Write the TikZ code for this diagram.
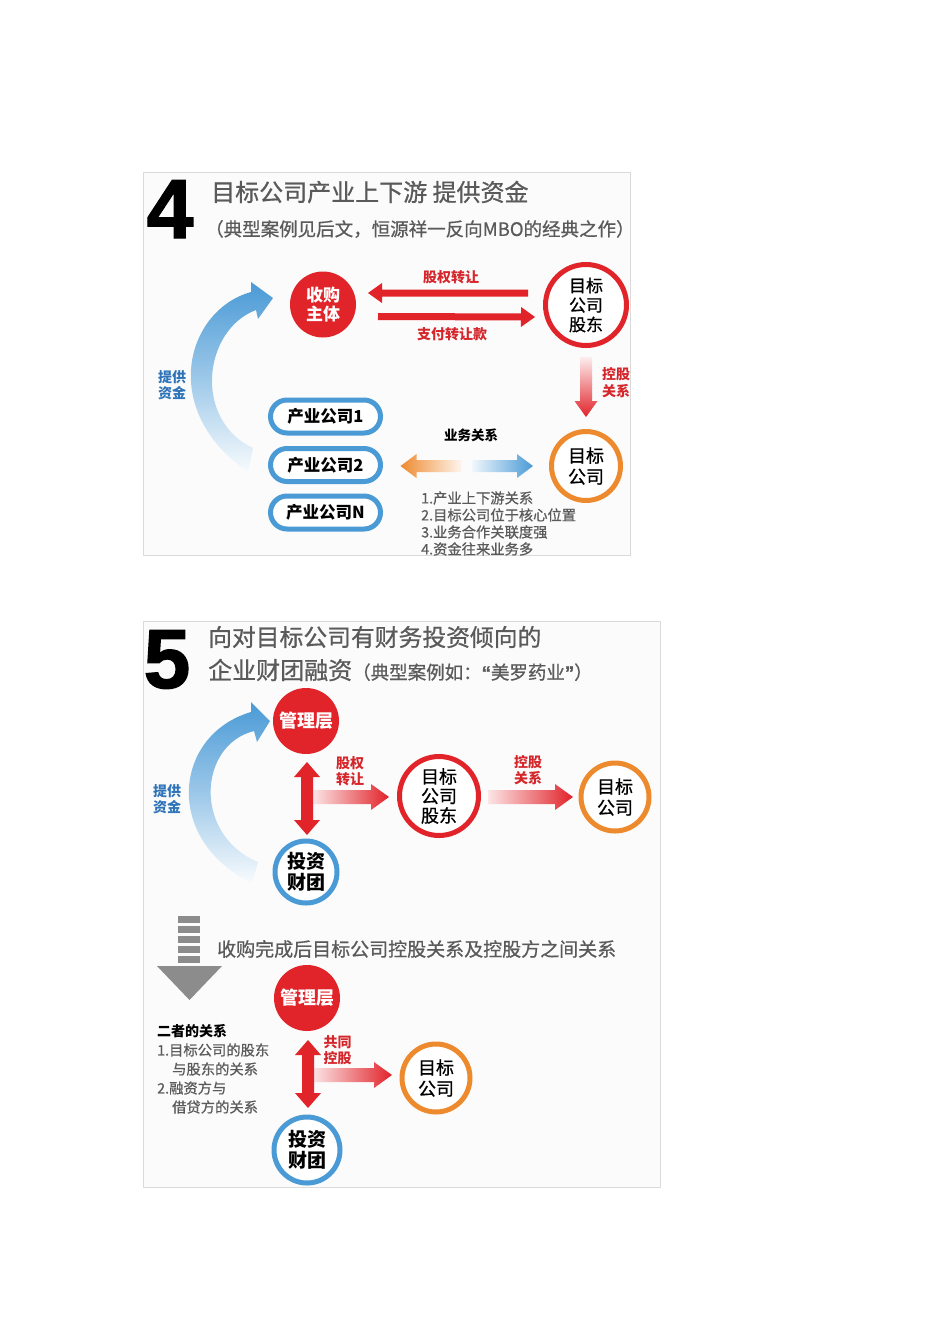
\documentclass[tikz,border=0pt]{standalone}
\usepackage{fontspec}
\setmainfont{Noto Sans CJK SC}
\newfontfamily\cjkmed[FakeBold=0.7]{Noto Sans CJK SC}
\newfontfamily\digitfont[BoldFeatures={FakeBold=1.5}]{Liberation Sans}
\usetikzlibrary{calc}
\definecolor{cred}{HTML}{E1232A}
\definecolor{credtxt}{HTML}{D5262B}
\definecolor{corange}{HTML}{EE8A2E}
\definecolor{cblue}{HTML}{4A9AD6}
\definecolor{cbluetxt}{HTML}{2F74B8}
\definecolor{ctitle}{HTML}{5A5A5A}
\definecolor{cgray}{HTML}{8C8C8C}
\definecolor{cpanel}{HTML}{FBFBFB}
\definecolor{cborder}{HTML}{DADADA}
% single-headed fat arrow: #1 from, #2 to, #3 half shaft, #4 half head, #5 head length, #6 fill/shade options
\newcommand{\fatarrow}[6]{%
  \coordinate (fatH) at ($(#2)!#5!(#1)$);
  \path[#6] ($(#1)!#3!90:(#2)$) -- ($(fatH)!#3!-90:(#1)$) -- ($(fatH)!#4!-90:(#1)$) -- (#2)
    -- ($(fatH)!#4!90:(#1)$) -- ($(fatH)!#3!90:(#1)$) -- ($(#1)!#3!-90:(#2)$) -- cycle;
}
% double-headed fat arrow
\newcommand{\dblarrow}[6]{%
  \coordinate (dbHa) at ($(#1)!#5!(#2)$);
  \coordinate (dbHb) at ($(#2)!#5!(#1)$);
  \path[#6] (#1) -- ($(dbHa)!#4!90:(#2)$) -- ($(dbHa)!#3!90:(#2)$) -- ($(dbHb)!#3!-90:(#1)$)
    -- ($(dbHb)!#4!-90:(#1)$) -- (#2) -- ($(dbHb)!#4!90:(#1)$) -- ($(dbHb)!#3!90:(#1)$)
    -- ($(dbHa)!#3!-90:(#2)$) -- ($(dbHa)!#4!-90:(#2)$) -- cycle;
}
\begin{document}
\begin{tikzpicture}[x=1pt,y=-1pt,
  panel/.style={fill=cpanel, draw=cborder, line width=0.8pt},
  rfill/.style={circle, fill=cred, text=white, inner sep=0pt, align=center,
    font=\bfseries\fontsize{17}{19.5}\selectfont},
  rring/.style={circle, draw=cred, line width=5pt, fill=white, inner sep=0pt, align=center,
    font=\cjkmed\fontsize{17}{19.5}\selectfont},
  oring/.style={circle, draw=corange, line width=5pt, fill=white, inner sep=0pt, align=center,
    font=\cjkmed\fontsize{18}{21}\selectfont},
  bring/.style={circle, draw=cblue, line width=5pt, fill=white, inner sep=0pt, align=center,
    font=\bfseries\fontsize{19}{21}\selectfont},
  pill/.style={draw=cblue, line width=5pt, fill=white, rounded corners=16.5pt,
    minimum width=110pt, minimum height=33pt, inner sep=0pt,
    font=\bfseries\fontsize{16.5}{18}\selectfont},
  rlab/.style={text=credtxt, inner sep=0pt, align=center, font=\bfseries\fontsize{14}{16.5}\selectfont},
  blab/.style={text=cbluetxt, inner sep=0pt, align=center, font=\bfseries\fontsize{14}{16}\selectfont},
  note/.style={text=ctitle, inner sep=0pt, align=left, font=\cjkmed\fontsize{14.3}{17}\selectfont},
  bignum/.style={anchor=base, inner sep=0pt, font=\digitfont\bfseries\fontsize{84}{84}\selectfont},
  ttl/.style={anchor=west, inner sep=0pt, text=ctitle}
]
\useasboundingbox (0,0) rectangle (950,1344);
\fill[white] (0,0) rectangle (950,1344);

% ================= Panel 4 =================
\draw[panel] (143,172) rectangle (630,555);
\node[bignum] (n4) at (170,238) {4};
\node[ttl, font=\cjkmed\fontsize{24}{26}\selectfont] (t4a) at (211,192) {目标公司产业上下游 提供资金};
\node[ttl, font=\cjkmed\fontsize{18.5}{20}\selectfont] (t4b) at (205,229) {（典型案例见后文，恒源祥一反向MBO的经典之作）};

% blue curved arrow (提供资金)
\path[top color=cblue, bottom color=cblue!4, middle color=cblue!55]
  (248,472) .. controls (158,410) and (186,310) .. (251,292) -- (251,282) -- (273,298)
  -- (258,319) -- (256,310) .. controls (203,330) and (193,420) .. (253,448) -- cycle;
\node[blab] (fund4) at (172,385.5) {提供\\资金};

\node[rfill, minimum size=66pt] (sg4) at (323,304.5) {收购\\主体};
\node[rring, minimum size=81pt] (gd4) at (586,305) {目标\\公司\\股东};
\node[oring, minimum size=69pt] (tc4) at (586,466) {目标\\公司};

\node[pill] (p1) at (325.5,416.5) {产业公司1};
\node[pill] (p2) at (325.5,465) {产业公司2};
\node[pill] (pn) at (325.5,512.5) {产业公司N};

% equity transfer arrows
\coordinate (a1s) at ($(gd4)+(-58,-12)$);
\coordinate (a1e) at ($(sg4)+(45,-11.5)$);
\fatarrow{a1s}{a1e}{3.5pt}{10pt}{14pt}{fill=cred}
\coordinate (a2s) at ($(sg4)+(55,12)$);
\coordinate (a2e) at ($(gd4)+(-51,12)$);
\fatarrow{a2s}{a2e}{3.5pt}{10pt}{14pt}{fill=cred}
\node[rlab] (l41) at (451,277) {股权转让};
\node[rlab] (l42) at (452,334) {支付转让款};

% holding relation arrow (vertical)
\coordinate (a3s) at ($(gd4)+(0,52)$);
\coordinate (a3e) at ($(tc4)+(0,-49)$);
\fatarrow{a3s}{a3e}{6pt}{11.5pt}{16pt}{top color=cred!8, bottom color=cred}
\node[rlab] (l43) at (616,382.5) {控股\\关系};

% business relation double arrow
\coordinate (a4s) at ($(p2)+(136,1)$);
\coordinate (a4e) at ($(p2)+(75,1)$);
\fatarrow{a4s}{a4e}{6pt}{12pt}{16pt}{left color=corange, right color=corange!8}
\coordinate (a5s) at ($(tc4)+(-114,0)$);
\coordinate (a5e) at ($(tc4)+(-53,0)$);
\fatarrow{a5s}{a5e}{6pt}{12pt}{16pt}{left color=cblue!8, right color=cblue}
\node[inner sep=0pt, font=\bfseries\fontsize{13.5}{15}\selectfont] (l44) at (471,435) {业务关系};

\node[note, anchor=west] (notes4) at (421,523.5) {1.产业上下游关系\\2.目标公司位于核心位置\\3.业务合作关联度强\\4.资金往来业务多};

% ================= Panel 5 =================
\draw[panel] (143,621) rectangle (660,1187);
\node[bignum] (n5) at (167,688) {5};
\node[ttl, font=\cjkmed\fontsize{23.8}{26}\selectfont] (t5a) at (208,637) {向对目标公司有财务投资倾向的};
\node[ttl, font=\cjkmed] (t5b) at (208,670) {{\fontsize{24}{26}\selectfont 企业财团融资}{\fontsize{18.5}{20}\selectfont （典型案例如：{\digitfont\bfseries “}美罗药业{\digitfont\bfseries ”}）}};

% blue curved arrow
\path[top color=cblue, bottom color=cblue!4, middle color=cblue!55]
  (252,883) .. controls (163,840) and (173,735) .. (251,712) -- (251,702) -- (270,721)
  -- (257,742) -- (254,731) .. controls (198,745) and (193,835) .. (258,862) -- cycle;
\node[blab] (fund5) at (167,799) {提供\\资金};

\node[rfill, minimum size=66pt, font=\bfseries\fontsize{18}{20}\selectfont] (mg5) at (306,721) {管理层};
\node[bring, minimum size=62pt] (tz5) at (306,872) {投资\\财团};
\node[rring, minimum size=79pt, font=\cjkmed\fontsize{18}{19.5}\selectfont] (gd5) at (439,796) {目标\\公司\\股东};
\node[oring, minimum size=68pt] (tc5) at (615,797) {目标\\公司};

\coordinate (b1s) at ($(mg5)+(7,76)$);
\coordinate (b1e) at ($(gd5)+(-50,1)$);
\fatarrow{b1s}{b1e}{7pt}{13pt}{18pt}{left color=cred!12, right color=cred}
\coordinate (b2s) at ($(mg5)+(1,41)$);
\coordinate (b2e) at ($(tz5)+(1,-37)$);
\dblarrow{b2s}{b2e}{6pt}{13pt}{15pt}{top color=cred, middle color=cred!25, bottom color=cred}
\node[rlab] (l51) at (350,771) {股权\\转让};

\coordinate (b3s) at ($(gd5)+(49,1)$);
\coordinate (b3e) at ($(tc5)+(-42,0)$);
\fatarrow{b3s}{b3e}{7pt}{13pt}{18pt}{left color=cred!12, right color=cred}
\node[rlab] (l52) at (528,770) {控股\\关系};

% gray down arrow
\foreach \yy in {916,926,936,946,956}{
  \fill[cgray] (178,\yy) rectangle (200,\yy+6.5);
}
\fill[cgray] (157,966) -- (222,966) -- (189.5,1000) -- cycle;
\node[ttl, font=\cjkmed\fontsize{19}{20}\selectfont, text=ctitle] (t5c) at (217,949) {收购完成后目标公司控股关系及控股方之间关系};

\node[rfill, minimum size=66pt, font=\bfseries\fontsize{18}{20}\selectfont] (mg6) at (307,998) {管理层};
\node[bring, minimum size=66pt] (tz6) at (307,1150) {投资\\财团};
\node[oring, minimum size=68pt] (tc6) at (436,1078) {目标\\公司};

\coordinate (c1s) at ($(mg6)+(6,77)$);
\coordinate (c1e) at ($(tc6)+(-44,-3)$);
\fatarrow{c1s}{c1e}{7pt}{13pt}{18pt}{left color=cred!12, right color=cred}
\coordinate (c2s) at ($(mg6)+(1,42)$);
\coordinate (c2e) at ($(tz6)+(1,-42)$);
\dblarrow{c2s}{c2e}{6pt}{13pt}{15pt}{top color=cred, middle color=cred!25, bottom color=cred}
\node[rlab] (l53) at (337.5,1050) {共同\\控股};

\node[anchor=west, inner sep=0pt, font=\bfseries\fontsize{14}{16}\selectfont] (rel0) at (157,1031) {二者的关系};
\node[note, anchor=west] (rel1) at (157,1050) {1.目标公司的股东};
\node[note, anchor=west] (rel2) at (172,1069) {与股东的关系};
\node[note, anchor=west] (rel3) at (157,1088) {2.融资方与};
\node[note, anchor=west] (rel4) at (172,1107) {借贷方的关系};
\end{tikzpicture}
\end{document}
